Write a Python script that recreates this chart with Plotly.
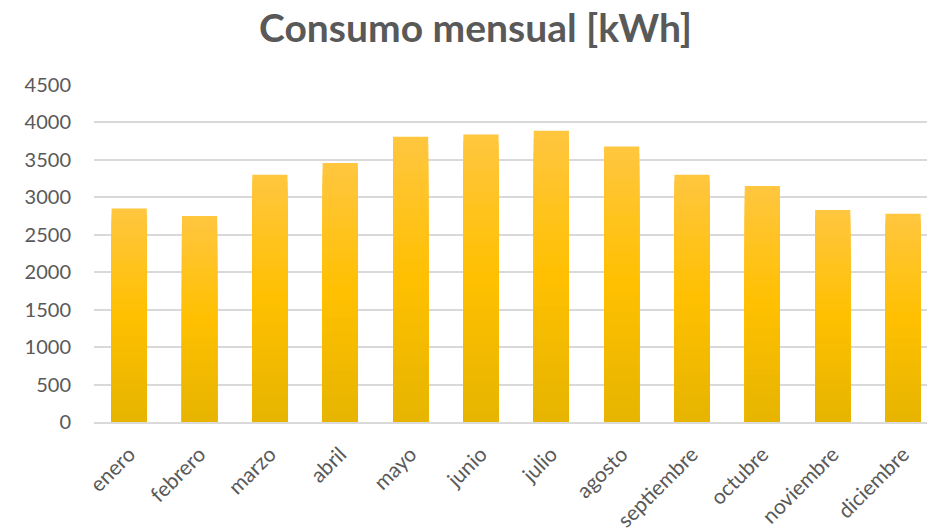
import plotly.graph_objects as go

meses = ["enero", "febrero", "marzo", "abril", "mayo", "junio", "julio",
         "agosto", "septiembre", "octubre", "noviembre", "diciembre"]
consumo = [2850, 2750, 3300, 3460, 3810, 3840, 3890, 3680, 3300, 3150, 2830, 2780]
y_ticks = [0, 500, 1000, 1500, 2000, 2500, 3000, 3500, 4000, 4500]

top_c = (255, 198, 64)
mid_c = (255, 192, 0)
bot_c = (230, 180, 0)


def grad_color(f):
    # f: 1 at top of bar, 0 at bottom
    if f >= 0.5:
        t = (f - 0.5) / 0.5
        a, b = mid_c, top_c
    else:
        t = f / 0.5
        a, b = bot_c, mid_c
    r = [round(a[i] + (b[i] - a[i]) * t) for i in range(3)]
    return "rgb(%d,%d,%d)" % tuple(r)


fig = go.Figure()
N = 40
for k in range(N):
    frac = 1 - k / N
    fig.add_trace(go.Bar(
        x=meses,
        y=[v * frac for v in consumo],
        marker=dict(color=grad_color(frac - 0.5 / N), line=dict(width=0)),
        width=0.5,
        showlegend=False,
        hoverinfo="skip" if k > 0 else None,
        customdata=consumo,
        hovertemplate="%{x}: %{customdata}<extra></extra>",
    ))

fig.update_layout(
    barmode="overlay",
    width=927, height=531,
    margin=dict(l=94, r=0, t=85, b=109),
    paper_bgcolor="white",
    plot_bgcolor="white",
    title=dict(text="<b>Consumo mensual [kWh]</b>", x=0.513, xanchor="center",
               y=0.946, yanchor="middle",
               font=dict(family="Lato, Open Sans, sans-serif", size=39, color="#595959")),
    font=dict(family="Lato, Open Sans, sans-serif", color="#595959", size=19),
)
fig.update_xaxes(
    range=[-0.5, 11.34],
    tickangle=-45,
    tickfont=dict(size=21, color="#595959"),
    showgrid=False,
    showline=True, linecolor="#d9d9d9", linewidth=1.5,
    ticks="",
    automargin=False,
    ticklabelstandoff=10,
)
fig.update_yaxes(
    range=[0, 4500],
    tickvals=y_ticks,
    showgrid=True, gridcolor="#d9d9d9", gridwidth=1.5,
    zeroline=False,
    showline=False,
    tickfont=dict(size=20, color="#595959"),
    ticks="", ticklabelstandoff=22,
    automargin=False,
)

fig.write_html("out.html",
               config={"displayModeBar": False},
               post_script="document.body.style.margin='0';document.body.style.overflow='hidden';")
